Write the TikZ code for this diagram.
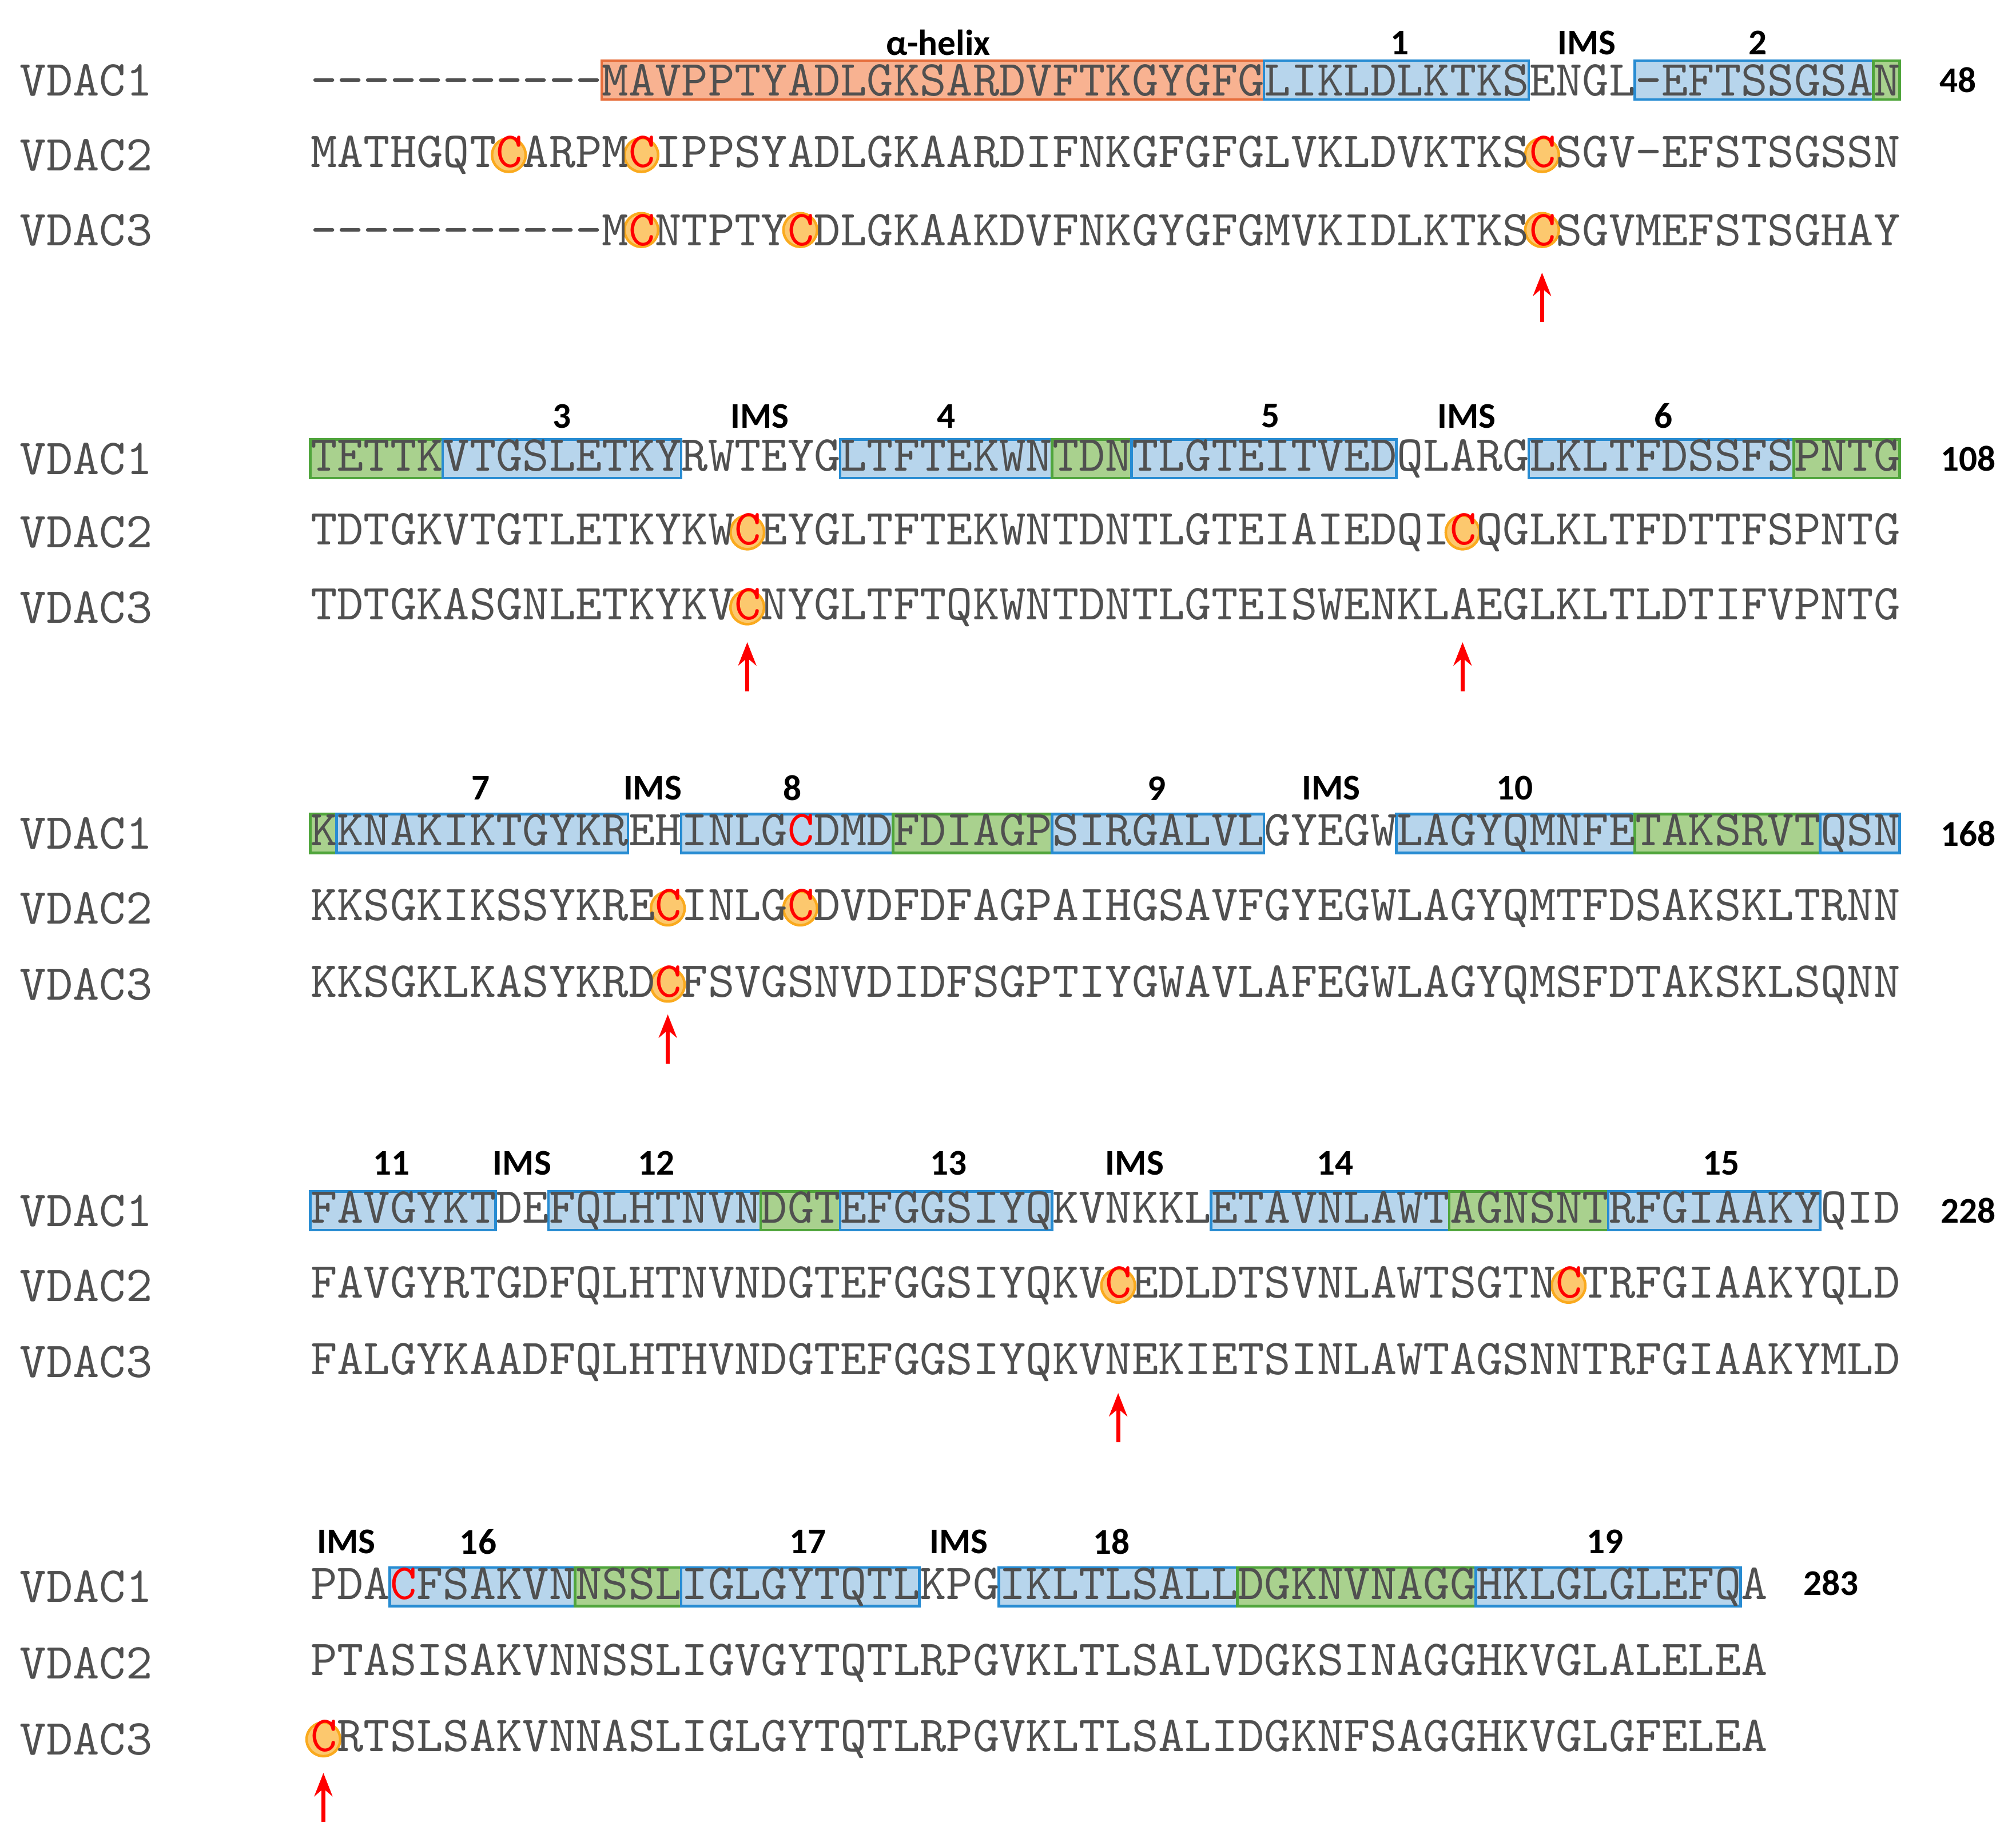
\documentclass[tikz,border=0pt]{standalone}
\usepackage{fontspec}
\newfontfamily\lab{Carlito}
\newfontfamily\seqf{lmmono10-regular.otf}
\usetikzlibrary{arrows.meta}
\definecolor{txt}{RGB}{80,80,80}
\definecolor{bfill}{RGB}{183,213,236}
\definecolor{bdraw}{RGB}{40,140,210}
\definecolor{gfill}{RGB}{169,209,142}
\definecolor{gdraw}{RGB}{80,165,60}
\definecolor{ofill}{RGB}{248,178,145}
\definecolor{odraw}{RGB}{230,110,60}
\definecolor{cfill}{RGB}{252,200,110}
\definecolor{cdraw}{RGB}{250,170,30}
\newcommand\rc[1]{\textcolor{red}{#1}}
\newcommand\bx[4]{\draw[#4] ({240+(#2-1)*20.5},#1-15) rectangle ({240+#3*20.5},#1+15);}
\newcommand\cc[2]{\node[circ] at ({240+(#2-0.5)*20.5},#1) {};}
\newcommand\ar[2]{\draw[arr] ({240+(#2-0.5)*20.5},#1+38) -- ({240+(#2-0.5)*20.5},#1);}
\tikzset{
 seq/.style={anchor=west,inner sep=0pt,font=\seqf\fontsize{19.524}{22}\selectfont,text=txt},
 nm/.style={anchor=west,inner sep=0pt,font=\seqf\fontsize{19.524}{22}\selectfont,text=txt},
 lb/.style={inner sep=0pt,font=\lab\bfseries\fontsize{14}{16}\selectfont},
 num/.style={inner sep=0pt,font=\lab\bfseries\fontsize{14}{16}\selectfont},
 B/.style={fill=bfill,draw=bdraw,line width=1pt},
 G/.style={fill=gfill,draw=gdraw,line width=1pt},
 O/.style={fill=ofill,draw=odraw,line width=1pt},
 circ/.style={circle,minimum size=13pt,inner sep=0pt,fill=cfill,draw=cdraw,line width=1pt},
 arr/.style={red,line width=1.5pt,-{Stealth[length=9pt,width=7pt]}},
}
\begin{document}
\begin{tikzpicture}[x=0.5pt,y=-0.5pt]
\useasboundingbox (0,0) rectangle (1560,1419);
% ---------- block 1
\bx{62}{12}{36}{O}\bx{62}{37}{46}{B}\bx{62}{51}{59}{B}\bx{62}{60}{60}{G}
\cc{120}{8}\cc{120}{13}\cc{120}{47}\cc{178}{13}\cc{178}{19}\cc{178}{47}
\node[lb] (l1a) at (726,33) {α-helix};
\node[lb] (l1b) at (1083,33) {1};
\node[lb] (l1c) at (1228,33) {IMS};
\node[lb] (l1d) at (1360,33) {2};
\node[nm] (n11) at (15,62) {VDAC1};
\node[nm] (n12) at (15,120) {VDAC2};
\node[nm] (n13) at (15,178) {VDAC3};
\node[seq] (s11) at (240,62) {-----------MAVPPTYADLGKSARDVFTKGYGFGLIKLDLKTKSENGL-EFTSSGSAN};
\node[seq] (s12) at (240,120) {MATHGQT\rc{C}ARPM\rc{C}IPPSYADLGKAARDIFNKGFGFGLVKLDVKTKS\rc{C}SGV-EFSTSGSSN};
\node[seq] (s13) at (240,178) {-----------M\rc{C}NTPTY\rc{C}DLGKAAKDVFNKGYGFGMVKIDLKTKS\rc{C}SGVMEFSTSGHAY};
\node[num] (e1) at (1515,62) {48};
\ar{211}{47}
% ---------- block 2
\bx{355}{1}{5}{G}\bx{355}{6}{14}{B}\bx{355}{21}{28}{B}\bx{355}{29}{31}{G}\bx{355}{32}{41}{B}\bx{355}{47}{56}{B}\bx{355}{57}{60}{G}
\cc{412}{17}\cc{412}{44}\cc{470}{17}
\node[lb] (l2a) at (435,322) {3};
\node[lb] (l2b) at (588,322) {IMS};
\node[lb] (l2c) at (732,322) {4};
\node[lb] (l2d) at (983,322) {5};
\node[lb] (l2e) at (1135,322) {IMS};
\node[lb] (l2f) at (1287,322) {6};
\node[nm] (n21) at (15,355) {VDAC1};
\node[nm] (n22) at (15,412) {VDAC2};
\node[nm] (n23) at (15,470) {VDAC3};
\node[seq] (s21) at (240,355) {TETTKVTGSLETKYRWTEYGLTFTEKWNTDNTLGTEITVEDQLARGLKLTFDSSFSPNTG};
\node[seq] (s22) at (240,412) {TDTGKVTGTLETKYKW\rc{C}EYGLTFTEKWNTDNTLGTEIAIEDQI\rc{C}QGLKLTFDTTFSPNTG};
\node[seq] (s23) at (240,470) {TDTGKASGNLETKYKV\rc{C}NYGLTFTQKWNTDNTLGTEISWENKLAEGLKLTLDTIFVPNTG};
\node[num] (e2) at (1523,355) {108};
\ar{497}{17}\ar{497}{44}
% ---------- block 3
\bx{645}{1}{1}{G}\bx{645}{2}{12}{B}\bx{645}{15}{22}{B}\bx{645}{23}{28}{G}\bx{645}{29}{36}{B}\bx{645}{42}{50}{B}\bx{645}{51}{57}{G}\bx{645}{58}{60}{B}
\cc{703}{14}\cc{703}{19}\cc{762}{14}
\node[lb] (l3a) at (372,610) {7};
\node[lb] (l3b) at (505,610) {IMS};
\node[lb] (l3c) at (613,610) {8};
\node[lb] (l3d) at (895,610) {9};
\node[lb] (l3e) at (1030,610) {IMS};
\node[lb] (l3f) at (1172,610) {10};
\node[nm] (n31) at (15,645) {VDAC1};
\node[nm] (n32) at (15,703) {VDAC2};
\node[nm] (n33) at (15,762) {VDAC3};
\node[seq] (s31) at (240,645) {KKNAKIKTGYKREHINLG\rc{C}DMDFDIAGPSIRGALVLGYEGWLAGYQMNFETAKSRVTQSN};
\node[seq] (s32) at (240,703) {KKSGKIKSSYKRE\rc{C}INLG\rc{C}DVDFDFAGPAIHGSAVFGYEGWLAGYQMTFDSAKSKLTRNN};
\node[seq] (s33) at (240,762) {KKSGKLKASYKRD\rc{C}FSVGSNVDIDFSGPTIYGWAVLAFEGWLAGYQMSFDTAKSKLSQNN};
\node[num] (e3) at (1523,645) {168};
\ar{785}{14}
% ---------- block 4
\bx{937}{1}{7}{B}\bx{937}{10}{17}{B}\bx{937}{18}{20}{G}\bx{937}{21}{28}{B}\bx{937}{35}{43}{B}\bx{937}{44}{49}{G}\bx{937}{50}{57}{B}
\cc{995}{31}\cc{995}{48}
\node[lb] (l4a) at (303,900) {11};
\node[lb] (l4b) at (404,900) {IMS};
\node[lb] (l4c) at (508,900) {12};
\node[lb] (l4d) at (734,900) {13};
\node[lb] (l4e) at (878,900) {IMS};
\node[lb] (l4f) at (1033,900) {14};
\node[lb] (l4g) at (1332,900) {15};
\node[nm] (n41) at (15,937) {VDAC1};
\node[nm] (n42) at (15,995) {VDAC2};
\node[nm] (n43) at (15,1054) {VDAC3};
\node[seq] (s41) at (240,937) {FAVGYKTDEFQLHTNVNDGTEFGGSIYQKVNKKLETAVNLAWTAGNSNTRFGIAAKYQID};
\node[seq] (s42) at (240,995) {FAVGYRTGDFQLHTNVNDGTEFGGSIYQKV\rc{C}EDLDTSVNLAWTSGTN\rc{C}TRFGIAAKYQLD};
\node[seq] (s43) at (240,1054) {FALGYKAADFQLHTHVNDGTEFGGSIYQKVNEKIETSINLAWTAGSNNTRFGIAAKYMLD};
\node[num] (e4) at (1523,937) {228};
\ar{1078}{31}
% ---------- block 5
\bx{1228}{4}{10}{B}\bx{1228}{11}{14}{G}\bx{1228}{15}{23}{B}\bx{1228}{27}{35}{B}\bx{1228}{36}{44}{G}\bx{1228}{45}{54}{B}
\cc{1346}{1}
\node[lb] (l5a) at (268,1193) {IMS};
\node[lb] (l5b) at (370,1193) {16};
\node[lb] (l5c) at (625,1193) {17};
\node[lb] (l5d) at (742,1193) {IMS};
\node[lb] (l5e) at (860,1193) {18};
\node[lb] (l5f) at (1242,1193) {19};
\node[nm] (n51) at (15,1228) {VDAC1};
\node[nm] (n52) at (15,1287) {VDAC2};
\node[nm] (n53) at (15,1346) {VDAC3};
\node[seq] (s51) at (240,1228) {PDA\rc{C}FSAKVNNSSLIGLGYTQTLKPGIKLTLSALLDGKNVNAGGHKLGLGLEFQA};
\node[seq] (s52) at (240,1287) {PTASISAKVNNSSLIGVGYTQTLRPGVKLTLSALVDGKSINAGGHKVGLALELEA};
\node[seq] (s53) at (240,1346) {\rc{C}RTSLSAKVNNASLIGLGYTQTLRPGVKLTLSALIDGKNFSAGGHKVGLGFELEA};
\node[num] (e5) at (1417,1225) {283};
\ar{1372}{1}
\end{tikzpicture}
\end{document}
